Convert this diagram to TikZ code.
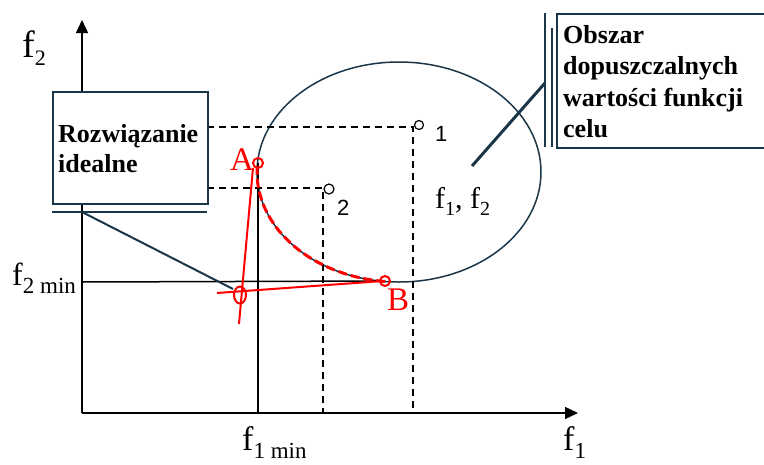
\documentclass[tikz,border=0pt]{standalone}
\usepackage{fontspec}
\setmainfont{Liberation Serif}
\newfontfamily\sansf{Liberation Sans}
\usetikzlibrary{arrows.meta}
\definecolor{slate}{RGB}{26,54,72}
\definecolor{myred}{RGB}{255,0,0}
\begin{document}
\begin{tikzpicture}[x=1pt,y=-1pt,
  axisline/.style={line width=1.5pt,-{Triangle[length=13pt,width=12pt]}},
  guide/.style={line width=1.5pt},
  dashguide/.style={line width=1.3pt,dash pattern=on 7pt off 5pt},
  frame/.style={draw=slate,line width=2pt,fill=white,inner sep=0pt},
  slateline/.style={draw=slate,line width=2pt},
  redline/.style={draw=myred,line width=2pt},
  reddash/.style={draw=myred,line width=3pt,dash pattern=on 9pt off 4pt},
  lbl/.style={inner sep=0pt,anchor=base west},
  boxtext/.style={lbl,font=\fontsize{26}{30}\selectfont\bfseries},
  numtext/.style={lbl,font=\sansf\fontsize{22}{22}\selectfont}
]
\useasboundingbox (0,0) rectangle (764,464);
% axes
\coordinate (O) at (82,413);
\coordinate (Ytip) at (82,20);
\coordinate (Xtip) at (578,413);
\draw[axisline] (O) -- (Ytip);
\draw[axisline] (O) -- (Xtip);
% ellipse (feasible region)
\draw[slate,line width=1.5pt] (399,172) ellipse [x radius=142pt, y radius=110pt];
% points
\coordinate (A) at (258,163);
\coordinate (B) at (385,281);
\coordinate (I) at (240,295);
% guides
\coordinate (F2L) at (82,282);
\coordinate (F1B) at (258,413);
\draw[guide] (F2L) -- (B);
\draw[guide] (A) -- (F1B);
% dashed guides
\coordinate (P1) at (419,125);
\coordinate (P2) at (329,189);
\draw[dashguide] (207,127) -| (413,413);
\draw[dashguide] (207,188) -| (323,413);
\draw[line width=1.2pt] (P1) circle [radius=4.5pt];
\draw[line width=1.2pt] (P2) circle [radius=5pt];
\node[numtext] (n1) at (435,141) {1};
\node[numtext] (n2) at (337,215) {2};
% ideal solution box
\node[frame,anchor=north west,minimum width=155pt,minimum height=112pt] (ideal) at (52,91) {};
\node[boxtext] (t1) at (58,142) {Rozwiązanie};
\node[boxtext] (t2) at (58,172) {idealne};
\coordinate (U1) at (52,212);
\coordinate (U2) at (207,212);
\coordinate (UA) at (82,212);
\coordinate (UB) at (233,289);
\draw[slateline] (U1) -- (U2);
\draw[slateline] (UA) -- (UB);
% region box
\node[frame,anchor=north west,minimum width=230pt,minimum height=134pt] (region) at (556,13) {};
\draw[slateline] (545,13) -- (545,147);
\draw[slateline] (551.5,28) -- (551.5,147);
\coordinate (C1) at (545,83);
\coordinate (C2) at (472,166);
\draw[slate,line width=3pt] (C1) -- (C2);
\node[boxtext] (r1) at (563,43) {Obszar};
\node[boxtext] (r2) at (563,74) {dopuszczalnych};
\node[boxtext] (r3) at (563,106) {wartości funkcji};
\node[boxtext] (r4) at (563,137) {celu};
% red elements
\draw[reddash] plot[domain=95.6:185,samples=60] ({399+142*cos(\x)},{172+110*sin(\x)});
\draw[redline] (253,168) -- (239,324);
\draw[redline] (217,293) -- (383,281);
\draw[redline] (A) circle [radius=5pt];
\draw[redline] (B) circle [radius=5pt];
\draw[redline] (I) ellipse [x radius=6pt, y radius=8.5pt];
\node[lbl,text=myred,font=\fontsize{33}{33}\selectfont] (lA) at (230,170) {A};
\node[lbl,text=myred,font=\fontsize{33}{33}\selectfont] (lB) at (387,310) {B};
% axis labels
\node[lbl,font=\fontsize{38}{38}\selectfont] (f2) at (22,57) {f\raisebox{-8pt}{\fontsize{22}{22}\selectfont 2}};
\node[lbl,font=\fontsize{32}{32}\selectfont] (f2min) at (12,285) {f\raisebox{-8pt}{\fontsize{23}{23}\selectfont 2 min}};
\node[lbl,font=\fontsize{34}{34}\selectfont] (f1min) at (242,450) {f\raisebox{-8pt}{\fontsize{23}{23}\selectfont 1 min}};
\node[lbl,font=\fontsize{34}{34}\selectfont] (f1) at (563,450) {f\raisebox{-8pt}{\fontsize{23}{23}\selectfont 1}};
\node[lbl,font=\fontsize{30}{30}\selectfont] (f12) at (435,208) {f\raisebox{-7pt}{\fontsize{20}{20}\selectfont 1}, f\raisebox{-7pt}{\fontsize{20}{20}\selectfont 2}};
\end{tikzpicture}
\end{document}
